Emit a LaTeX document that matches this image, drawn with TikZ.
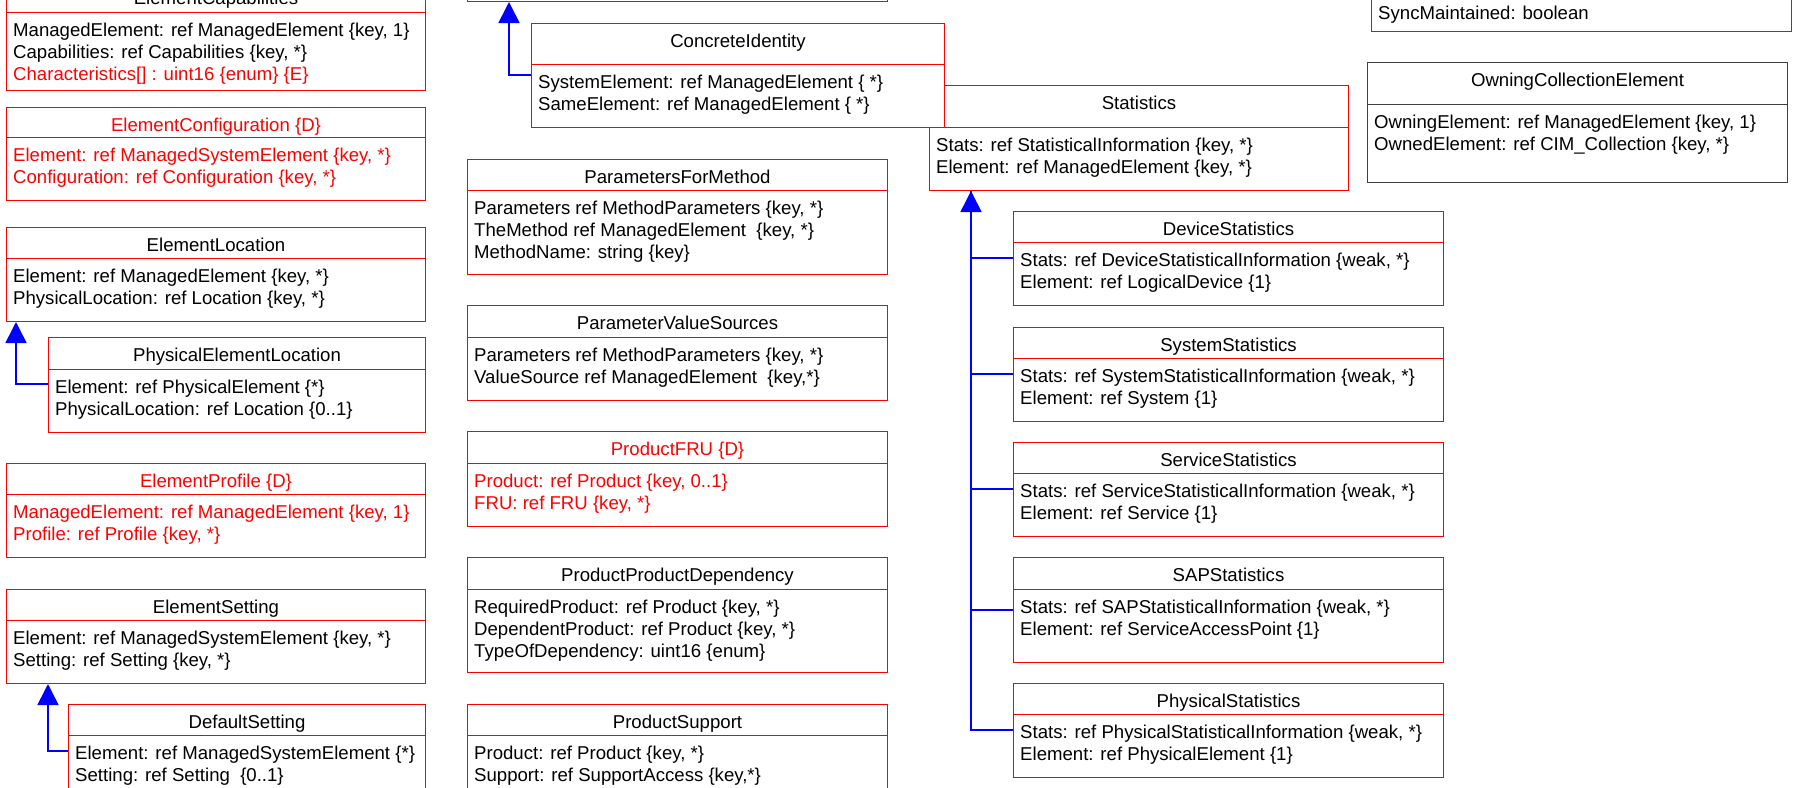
\documentclass[tikz,border=0pt]{standalone}
\usepackage{fontspec}
\setmainfont{Liberation Sans}
\usetikzlibrary{arrows.meta}

% one class: box, title row, divider and fields
\newcommand{\umlclass}[8][]{%
  \node[classbox, minimum width=#4, minimum height=#5, #1] (#2) at #3 {};
  \draw[divider, #1] ([yshift=-#6]#2.north west) -- ([yshift=-#6]#2.north east);
  \node[classtitle, #1, draw=none] at ([yshift=-24pt]#2.north) {#7};
  \node[classfields, #1, draw=none] at ([xshift=7pt, yshift=-#6-24pt]#2.north west)
    {\begin{tabular}[t]{@{}l@{}}#8\end{tabular}};
}

\begin{document}
\begin{tikzpicture}[x=1pt, y=-1pt,
    classbox/.style={draw=red, fill=white, line width=1pt, inner sep=0pt, anchor=north west},
    divider/.style={draw=red, line width=1pt},
    classtitle/.style={anchor=base, inner sep=0pt, font=\fontsize{18.6}{22}\selectfont},
    classfields/.style={anchor=base west, inner sep=0pt, font=\fontsize{18.6}{22}\selectfont},
    old/.style={text=red},
    grey/.style={draw=black!75},
    link/.style={draw=blue, line width=1.6pt},
    inherit/.style={link, -{Triangle[length=21pt, width=21pt]}}]
  \useasboundingbox (0,0) rectangle (1795,787);
  \clip (0,0) rectangle (1795,787);

  % left column
  \umlclass{caps}{(6,-19)}{419pt}{109pt}{31pt}{ElementCapabilities}
    {ManagedElement: ref ManagedElement \{key, 1\}\\
     Capabilities: ref Capabilities \{key, *\}\\
     \textcolor{red}{Characteristics[] : uint16 \{enum\} \{E\}}}
  \umlclass[old]{config}{(6,107)}{419pt}{93pt}{30pt}{ElementConfiguration \{D\}}
    {Element: ref ManagedSystemElement \{key, *\}\\
     Configuration: ref Configuration \{key, *\}}
  \umlclass{loc}{(6,227)}{419pt}{94pt}{31pt}{ElementLocation}
    {Element: ref ManagedElement \{key, *\}\\
     PhysicalLocation: ref Location \{key, *\}}
  \umlclass{physloc}{(48,337)}{377pt}{95pt}{32pt}{PhysicalElementLocation}
    {Element: ref PhysicalElement \{*\}\\
     PhysicalLocation: ref Location \{0..1\}}
  \umlclass[old]{profile}{(6,463)}{419pt}{94pt}{31pt}{ElementProfile \{D\}}
    {ManagedElement: ref ManagedElement \{key, 1\}\\
     Profile: ref Profile \{key, *\}}
  \umlclass{setting}{(6,589)}{419pt}{94pt}{31pt}{ElementSetting}
    {Element: ref ManagedSystemElement \{key, *\}\\
     Setting: ref Setting \{key, *\}}
  \umlclass{defset}{(68,704)}{357pt}{94pt}{31pt}{DefaultSetting}
    {Element: ref ManagedSystemElement \{*\}\\
     Setting: ref Setting~ \{0..1\}}

  % middle column
  \node[classbox, minimum width=420pt, minimum height=61pt] (logical) at (467,-60) {};
  \umlclass{pfm}{(467,159)}{420pt}{115pt}{31pt}{ParametersForMethod}
    {Parameters ref MethodParameters \{key, *\}\\
     TheMethod ref ManagedElement~ \{key, *\}\\
     MethodName: string \{key\}}
  \umlclass{pvs}{(467,305)}{420pt}{95pt}{32pt}{ParameterValueSources}
    {Parameters ref MethodParameters \{key, *\}\\
     ValueSource ref ManagedElement~ \{key,*\}}
  \umlclass[old]{fru}{(467,431)}{420pt}{95pt}{32pt}{ProductFRU \{D\}}
    {Product: ref Product \{key, 0..1\}\\
     FRU: ref FRU \{key, *\}}
  \umlclass{ppd}{(467,557)}{420pt}{115pt}{32pt}{ProductProductDependency}
    {RequiredProduct: ref Product \{key, *\}\\
     DependentProduct: ref Product \{key, *\}\\
     TypeOfDependency: uint16 \{enum\}}
  \umlclass{support}{(467,704)}{420pt}{94pt}{31pt}{ProductSupport}
    {Product: ref Product \{key, *\}\\
     Support: ref SupportAccess \{key,*\}}

  % statistics and its subclasses
  \umlclass{stats}{(929,85)}{419pt}{105pt}{42pt}{Statistics}
    {Stats: ref StatisticalInformation \{key, *\}\\
     Element: ref ManagedElement \{key, *\}}
  \umlclass{concrete}{(531,23)}{413pt}{104pt}{41pt}{ConcreteIdentity}
    {SystemElement: ref ManagedElement \{ *\}\\
     SameElement: ref ManagedElement \{ *\}}
  \umlclass{devstats}{(1013,211)}{430pt}{94pt}{31pt}{DeviceStatistics}
    {Stats: ref DeviceStatisticalInformation \{weak, *\}\\
     Element: ref LogicalDevice \{1\}}
  \umlclass{sysstats}{(1013,327)}{430pt}{94pt}{31pt}{SystemStatistics}
    {Stats: ref SystemStatisticalInformation \{weak, *\}\\
     Element: ref System \{1\}}
  \umlclass{svcstats}{(1013,442)}{430pt}{94pt}{31pt}{ServiceStatistics}
    {Stats: ref ServiceStatisticalInformation \{weak, *\}\\
     Element: ref Service \{1\}}
  \umlclass{sapstats}{(1013,557)}{430pt}{105pt}{32pt}{SAPStatistics}
    {Stats: ref SAPStatisticalInformation \{weak, *\}\\
     Element: ref ServiceAccessPoint \{1\}}
  \umlclass{physstats}{(1013,683)}{430pt}{94pt}{31pt}{PhysicalStatistics}
    {Stats: ref PhysicalStatisticalInformation \{weak, *\}\\
     Element: ref PhysicalElement \{1\}}

  % right column
  \node[classbox, minimum width=420pt, minimum height=131pt] (sync) at (1371,-100) {};
  \node[classfields] at ([xshift=7pt, yshift=13pt]sync.south west) {SyncMaintained: boolean};
  \umlclass[grey]{owning}{(1367,62)}{420pt}{120pt}{42pt}{OwningCollectionElement}
    {OwningElement: ref ManagedElement \{key, 1\}\\
     OwnedElement: ref CIM\_Collection \{key, *\}}

  % inheritance
  \coordinate (trunk) at ([xshift=42pt]stats.south west);
  \draw[inherit] ([yshift=-52pt]concrete.north west) -| ([xshift=42pt]logical.south west);
  \draw[inherit] ([yshift=-47pt]physloc.north west) -| ([xshift=10pt]loc.south west);
  \draw[inherit] ([yshift=-47pt]defset.north west) -| ([xshift=42pt]setting.south west);
  \draw[link] ([yshift=-47pt]devstats.north west) -| (trunk);
  \draw[link] ([yshift=-47pt]sysstats.north west) -| (trunk);
  \draw[link] ([yshift=-47pt]svcstats.north west) -| (trunk);
  \draw[link] ([yshift=-53pt]sapstats.north west) -| (trunk);
  \draw[inherit] ([yshift=-47pt]physstats.north west) -| (trunk);
\end{tikzpicture}
\end{document}
